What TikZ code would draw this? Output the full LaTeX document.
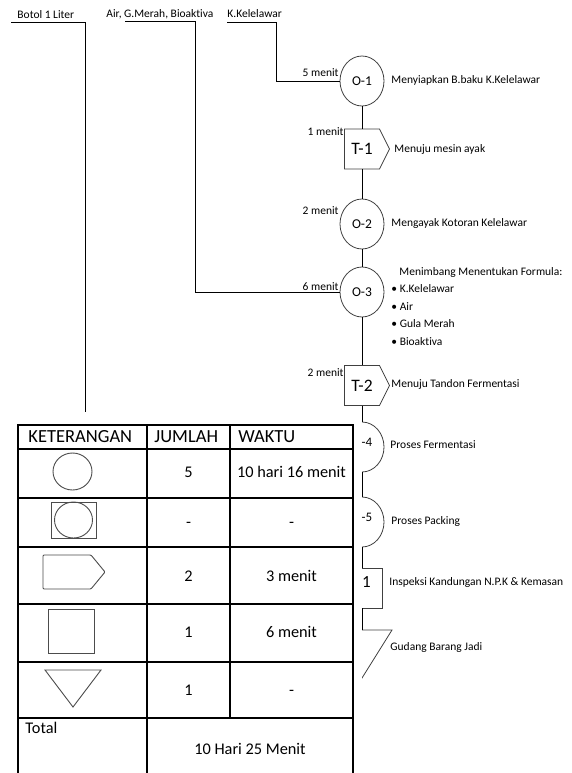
\documentclass[tikz,border=0pt]{standalone}
\usepackage{fontspec}
\setmainfont[Ligatures=NoCommon]{Carlito}
\usetikzlibrary{shapes.geometric,shapes.symbols}

\begin{document}
\begin{tikzpicture}[x=1pt, y=-1pt, line width=0.9pt,
    opr/.style={draw=black!75, line width=0.8pt, ellipse, minimum width=44pt, minimum height=50pt, inner sep=0pt, font=\fontsize{13.5}{15}\selectfont},
    trans/.style={draw=black!75, line width=0.8pt, signal, signal to=east, signal pointer angle=127, minimum width=45pt, minimum height=40pt, inner sep=0pt, font=\fontsize{17.5}{19}\selectfont},
    lbl/.style={font=\fontsize{11.5}{13}\selectfont, inner sep=0pt, anchor=west},
    tm/.style={font=\fontsize{11.5}{13}\selectfont, inner sep=0pt, anchor=east},
    hd/.style={font=\fontsize{18.5}{20}\selectfont, inner sep=0pt, anchor=west},
    cell/.style={font=\fontsize{16.3}{18}\selectfont, inner sep=0pt, text height=10.3pt, text depth=0pt},
    tab/.style={line width=1.6pt},
    sym/.style={draw=black!70, line width=0.9pt, inner sep=0pt}]

    \useasboundingbox (0,0) rectangle (571,773);

    % bahan masuk
    \node[lbl] (botol) at (17,15) {Botol 1 Liter};
    \node[lbl] (air) at (106,14) {Air, G.Merah, Bioaktiva};
    \node[lbl] (kk) at (227,14) {K.Kelelawar};
    \coordinate (b0) at (11,22);
    \coordinate (b1) at (85,412);
    \coordinate (a0) at (125,21);
    \coordinate (a1) at (195,21);
    \coordinate (k0) at (227,22);
    \coordinate (k1) at (276,22);

    % peta proses
    \node[opr] (o1) at (362,81) {O-1};
    \node[trans] (t1) at (362,149) {T-1};
    \node[opr] (o2) at (362,224) {O-2};
    \node[opr] (o3) at (362,292) {O-3};
    \node[trans] (t2) at (362,385.5) {T-2};
    \node[opr] (o4) at (362,447) {};
    \node[opr] (o5) at (362,522) {};
    \node[draw=black!75, line width=0.8pt, minimum size=40pt, inner sep=0pt] (i1) at (362,588) {};
    \coordinate (s1) at (362,630);
    \draw[draw=black!75, line width=0.8pt] (s1) ++(-30,0) -- ++(60,0) -- (362,678) -- cycle;

    \draw (b0) -| (b1);
    \draw (a0) -- (a1) |- (o3.west);
    \draw (k0) -- (k1) |- (o1.west);

    % waktu
    \node[tm] (m1) at (339,73) {5 menit};
    \node[tm] (m2) at (344,132) {1 menit};
    \node[tm] (m3) at (339,211) {2 menit};
    \node[tm] (m4) at (339,287) {6 menit};
    \node[tm] (m5) at (344,373) {2 menit};

    % keterangan proses
    \node[lbl] (l1) at (391,80) {Menyiapkan B.baku K.Kelelawar};
    \node[lbl] (l2) at (394,149) {Menuju mesin ayak};
    \node[lbl] (l3) at (391,223) {Mengayak Kotoran Kelelawar};
    \node[lbl] (l4) at (399,272) {Menimbang Menentukan Formula:};
    \node[lbl] (l5) at (391,289) {\textbullet\ K.Kelelawar};
    \node[lbl] (l6) at (391,307) {\textbullet\ Air};
    \node[lbl] (l7) at (391,324) {\textbullet\ Gula Merah};
    \node[lbl] (l8) at (391,342) {\textbullet\ Bioaktiva};
    \node[lbl] (l9) at (391,384) {Menuju Tandon Fermentasi};
    \node[lbl] (l10) at (390,445) {Proses Fermentasi};
    \node[lbl] (l11) at (391,521) {Proses Packing};
    \node[lbl] (l12) at (389,582) {Inspeksi Kandungan N.P.K \& Kemasan};
    \node[lbl] (l13) at (390,647) {Gudang Barang Jadi};

    % tabel menutupi
    \fill[white] (14,412) rectangle (362,773);

    \draw (o1.south) -- (o1.south |- t1.north)
        (o2.north |- t1.south) -- (o2.north)
        (o2.south) -- (o3.north)
        (o3.south) -- (o3.south |- t2.north)
        (o4.north |- t2.south) -- (o4.north)
        (o4.south) -- (o5.north)
        (o5.south) -- (i1.north)
        (i1.south) -- (s1);
    \node[font=\fontsize{13}{15}\selectfont, inner sep=0pt] (n4) at (367,442) {-4};
    \node[font=\fontsize{13}{15}\selectfont, inner sep=0pt] (n5) at (367,517) {-5};
    \node[font=\fontsize{17}{19}\selectfont, inner sep=0pt] (n6) at (366.5,582) {1};

    % tabel
    \draw[tab] (18,773) -- (18,425) -- (353,425) -- (353,773);
    \foreach \y in {449,498,547,604,662,718}
        \draw[tab] (18,\y) -- (353,\y);
    \draw[tab] (147,425) -- (147,773);
    \draw[tab] (230,425) -- (230,718);

    \node[hd] (h1) at (28,437) {KETERANGAN};
    \node[hd] (h2) at (154,437) {JUMLAH};
    \node[hd] (h3) at (238,437) {WAKTU};

    \node[sym, ellipse, minimum width=39pt, minimum height=37pt] (k1) at (72.5,471.5) {};
    \node[sym, minimum width=45pt, minimum height=36pt] (k2) at (73.5,520) {};
    \node[sym, ellipse, minimum width=38pt, minimum height=36pt] (k2c) at (k2) {};
    \node[sym, signal, signal to=east, signal pointer angle=101, minimum width=62pt, minimum height=34pt, rounded corners=1pt] (k3) at (67,572) {};
    \node[sym, minimum width=46pt, minimum height=44pt] (k4) at (71,631) {};
    \draw[sym] (45,670) -- (101,670) -- (73,707) -- cycle;

    \node[cell] (j1) at (188.5,472) {5};
    \node[cell] (w1) at (291.5,472) {10 hari 16 menit};
    \node[cell] (j2) at (188.5,522) {-};
    \node[cell] (w2) at (291.5,522) {-};
    \node[cell] (j3) at (188.5,576) {2};
    \node[cell] (w3) at (291.5,576) {3 menit};
    \node[cell] (j4) at (188.5,632) {1};
    \node[cell] (w4) at (291.5,632) {6 menit};
    \node[cell] (j5) at (188.5,690) {1};
    \node[cell] (w5) at (291.5,690) {-};
    \node[cell, anchor=west] (tot) at (25,728) {Total};
    \node[cell] (totv) at (250,749) {10 Hari 25 Menit};
\end{tikzpicture}
\end{document}
